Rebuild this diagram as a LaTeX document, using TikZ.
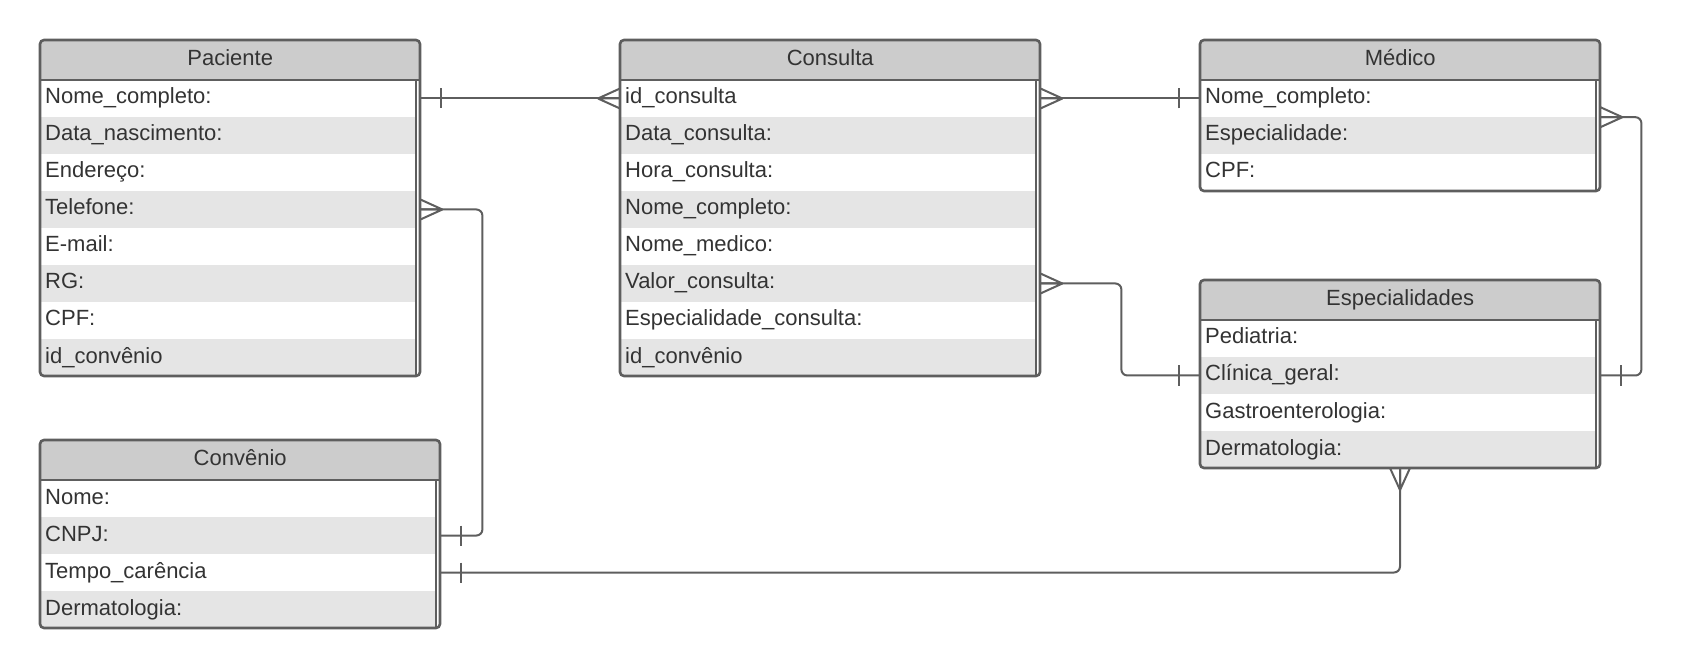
\documentclass[tikz,border=0pt]{standalone}
\usepackage{fontspec}
\setmainfont{Liberation Sans}
\usetikzlibrary{positioning}

\definecolor{hdrgrey}{HTML}{CCCCCC}
\definecolor{rowgrey}{HTML}{E5E5E5}
\definecolor{linegrey}{HTML}{5E5E5E}
\definecolor{txt}{HTML}{333333}
\newcommand\tabfont{\fontsize{22pt}{26pt}\selectfont}

\tikzset{
  hdr/.style={anchor=north west, fill=hdrgrey, minimum height=40pt, inner sep=0pt,
    text height=16pt, text depth=6pt, text=txt, font=\tabfont},
  rowcell/.style={anchor=west, inner xsep=5pt, inner ysep=0pt, minimum height=37pt,
    align=left, text height=20pt, text depth=9pt, text=txt, font=\tabfont},
  tblframe/.style={draw=linegrey, line width=2.6pt, rounded corners=4pt},
  link/.style={draw=linegrey, line width=2pt, rounded corners=6pt},
  crowfoot/.pic={\draw[link] (22,0) -- (0,-10) (22,0) -- (0,10) (22,0) -- (0,0);},
  onebar/.pic={\draw[link] (21,-10) -- (21,10);}
}

\begin{document}
\begin{tikzpicture}[x=1pt, y=-1pt]
    \useasboundingbox (0,0) rectangle (1682,668);

    % Tables
    \foreach \nm/\x/\y/\w/\n/\ttl/\rows in {
      pac/40/40/380/8/Paciente/{Nome\_completo:,Data\_nascimento:,Endereço:,Telefone:,E-mail:,RG:,CPF:,id\_convênio},
      con/620/40/420/8/Consulta/{id\_consulta,Data\_consulta:,Hora\_consulta:,Nome\_completo:,Nome\_medico:,Valor\_consulta:,Especialidade\_consulta:,id\_convênio},
      med/1200/40/400/3/Médico/{Nome\_completo:,Especialidade:,CPF:},
      esp/1200/280/400/4/Especialidades/{Pediatria:,Clínica\_geral:,Gastroenterologia:,Dermatologia:},
      conv/40/440/400/4/Convênio/{Nome:,CNPJ:,Tempo\_carência,Dermatologia:}}{
      \node[hdr, minimum width=\w pt] (\nm) at (\x,\y) {\ttl};
      \pgfmathsetlengthmacro\tw{\w pt-14.5pt}
      \foreach \r [count=\i] in \rows {
        \ifodd\i \def\rc{white}\else \def\rc{rowgrey}\fi
        \node[rowcell, fill=\rc, text width=\tw] (\nm\i) at (\x,{\y+40+(\i-0.5)*37}) {\r};
      }
      \coordinate (\nm-bot) at ({\x+\w/2},{\y+40+\n*37});
      \draw[tblframe] (\x,\y) rectangle ({\x+\w},{\y+40+\n*37});
      \draw[linegrey, line width=2.6pt] (\x,{\y+40}) -- ({\x+\w},{\y+40});
      \draw[linegrey, line width=2pt] ({\x+\w-4.5},{\y+40}) -- ({\x+\w-4.5},{\y+40+\n*37});
    }

    % Paciente - Consulta
    \draw[link] (pac.east |- pac1) -- (con.west |- con1);
    \pic at (pac.east |- pac1) {onebar};
    \pic[rotate=180] at (con.west |- con1) {crowfoot};

    % Consulta - Medico
    \draw[link] (con.east |- con1) -- (med.west |- med1);
    \pic at (con.east |- con1) {crowfoot};
    \pic[rotate=180] at (med.west |- med1) {onebar};

    % Paciente - Convenio
    \draw[link] (pac.east |- pac4) -- ++(62,0) |- (conv.east |- conv2);
    \pic at (pac.east |- pac4) {crowfoot};
    \pic at (conv.east |- conv2) {onebar};

    % Consulta - Especialidades
    \draw[link] (con.east |- con6) -- ++(81,0) |- (esp.west |- esp2);
    \pic at (con.east |- con6) {crowfoot};
    \pic[rotate=180] at (esp.west |- esp2) {onebar};

    % Medico - Especialidades
    \draw[link] (med.east |- med1.south) -- ++(41,0) |- (esp.east |- esp2);
    \pic at (med.east |- med1.south) {crowfoot};
    \pic at (esp.east |- esp2) {onebar};

    % Especialidades - Convenio
    \draw[link] (esp-bot) |- (conv.east |- conv3);
    \pic[rotate=-90] at (esp-bot) {crowfoot};
    \pic at (conv.east |- conv3) {onebar};
\end{tikzpicture}
\end{document}
